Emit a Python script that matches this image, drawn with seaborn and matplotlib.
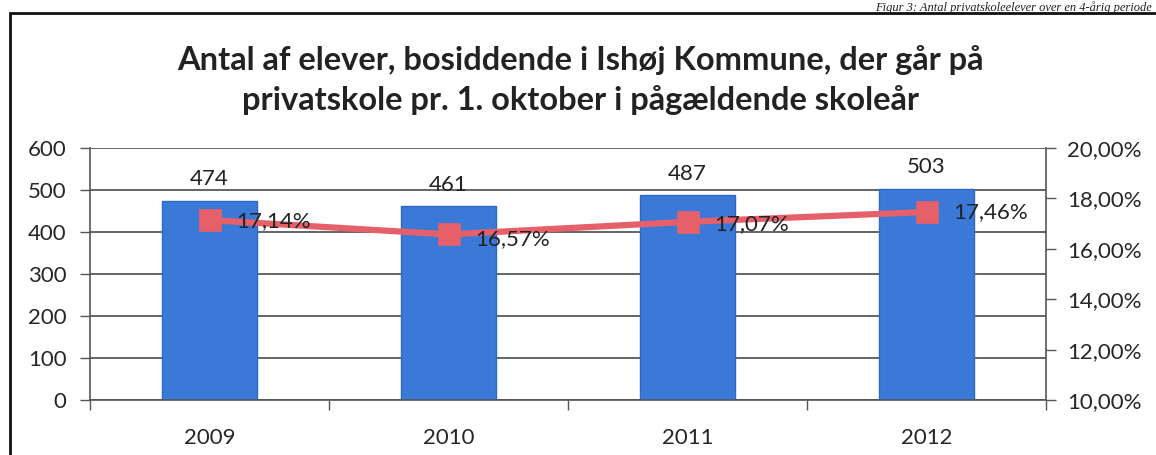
import matplotlib
matplotlib.use('Agg')
import matplotlib.pyplot as plt
import seaborn as sns
import pandas as pd
from matplotlib.patches import Rectangle
from matplotlib.ticker import FuncFormatter, FixedLocator

years = ['2009', '2010', '2011', '2012']
students = [474, 461, 487, 503]
share_pct = [17.14, 16.57, 17.07, 17.46]

title = 'Antal af elever, bosiddende i Ishøj Kommune, der går på\nprivatskole pr. 1. oktober i pågældende skoleår'
caption = 'Figur 3: Antal privatskoleelever over en 4-årig periode'

sns.set_style('white')
plt.rcParams['font.family'] = ['Lato', 'DejaVu Sans']

df = pd.DataFrame({'year': years, 'students': students, 'share': share_pct})

fig = plt.figure(figsize=(11.56, 4.55), dpi=100)
ax = fig.add_axes([90 / 1156, 1 - 400 / 455, (1046 - 90) / 1156, (400 - 148) / 455])

sns.barplot(data=df, x='year', y='students', color='#3b79d8', width=0.4,
            saturation=1, ax=ax, zorder=2)
for p in ax.patches:
    p.set_edgecolor('#2d69c6')
    p.set_linewidth(1)

ax.set_ylim(0, 600)
ax.set_yticks([0, 100, 200, 300, 400, 500, 600])
ax.grid(axis='y', color='#3a3a3a', linewidth=1.1, zorder=0)
ax.set_axisbelow(True)
ax.set_xlabel('')
ax.set_ylabel('')
ax.tick_params(axis='y', labelsize=16, length=7, width=1, color='#555555', pad=10, left=True)
ax.tick_params(axis='x', labelsize=16, length=0, pad=20)
ax.xaxis.set_minor_locator(FixedLocator([-0.5, 0.5, 1.5, 2.5, 3.5]))
ax.tick_params(axis='x', which='minor', length=7, width=1, color='#555555', bottom=True)
for side in ['top', 'right']:
    ax.spines[side].set_visible(False)
ax.spines['left'].set_color('#555555')
ax.spines['bottom'].set_color('#555555')
ax.spines['left'].set_linewidth(1.2)
ax.spines['bottom'].set_linewidth(1.2)

# count labels above the bars
for i, v in enumerate(students):
    ax.text(i, v + 28, str(v), ha='center', va='bottom', fontsize=16, color='#222222')

ax2 = ax.twinx()
sns.pointplot(data=df, x='year', y='share', color='#e6606a', markers='s',
              markersize=13, linewidth=4.5, ax=ax2)
ax2.set_ylim(10, 20)
ax2.set_yticks([10, 12, 14, 16, 18, 20])
ax2.yaxis.set_major_formatter(FuncFormatter(lambda v, pos: f'{v:.2f}%'.replace('.', ',')))
ax2.set_ylabel('')
ax2.tick_params(axis='y', labelsize=16, length=7, width=1, color='#555555', pad=8, right=True)
for side in ['top', 'left', 'bottom']:
    ax2.spines[side].set_visible(False)
ax2.spines['right'].set_color('#555555')
ax2.spines['right'].set_linewidth(1.2)
ax2.set_xlim(ax.get_xlim())

# percent labels to the right of the markers
offsets = [-0.05, -0.2, -0.1, 0.0]
for i, v in enumerate(share_pct):
    ax2.text(i + 0.11, v + offsets[i], f'{v:.2f}%'.replace('.', ','), ha='left', va='center',
             fontsize=16, color='#222222')

fig.text(580 / 1156, 1 - 80 / 455, title, ha='center', va='center', fontsize=23.5,
         fontweight='bold', color='#222222', linespacing=1.4)

frame = Rectangle((10 / 1156, -0.1), 1.2, 1 - 13 / 455 + 0.1, transform=fig.transFigure,
                  fill=False, edgecolor='#111111', linewidth=2)
fig.add_artist(frame)

fig.text(1152 / 1156, 1 - 1 / 455, caption, ha='right', va='top', fontsize=9,
         style='italic', family='Liberation Serif', color='#222222')

fig.savefig('out.png', dpi=100)
